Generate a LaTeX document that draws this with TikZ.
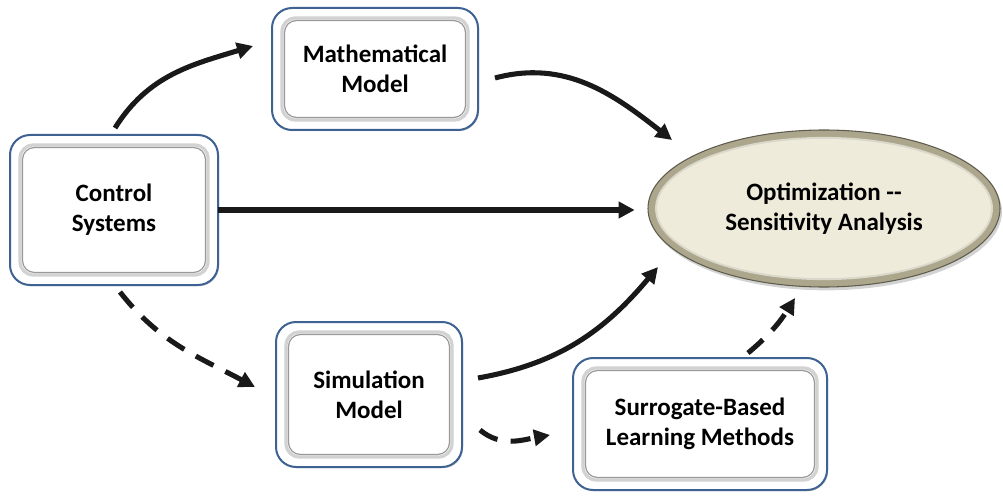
\documentclass[tikz,border=0pt]{standalone}
\usepackage{fontspec}
\setmainfont{Carlito}
\usetikzlibrary{arrows.meta,calc,shapes.geometric,shadows}
\definecolor{frameblue}{RGB}{62,98,145}
\definecolor{beige}{RGB}{238,235,218}
\definecolor{rim}{RGB}{172,167,140}
\begin{document}
\begin{tikzpicture}[x=0.75pt,y=0.75pt,
  lbl/.style={font=\bfseries\fontsize{18.75}{22.5}\selectfont, align=center, text=black},
  panel/.style={lbl, draw=frameblue, line width=1.5pt, fill=white, rounded corners=15pt,
    inner sep=0pt, outer sep=0pt,
    drop shadow={opacity=0.35, shadow xshift=0.9pt, shadow yshift=-0.9pt}},
  innerframe/.style={draw=gray!35, line width=2.4pt, rounded corners=10pt},
  innerline/.style={draw=gray!80, line width=0.9pt, rounded corners=9pt},
  goal/.style={lbl, ellipse, draw=rim!55!black, line width=0.8pt, fill=rim,
    inner sep=0pt, outer sep=0pt,
    drop shadow={opacity=0.35, shadow xshift=1.5pt, shadow yshift=-2.5pt},
    path picture={
      \fill[beige] (path picture bounding box.center) ellipse [x radius=126pt, y radius=53pt];
      \draw[white!55!rim, line width=1.4pt] (path picture bounding box.center) ellipse [x radius=126pt, y radius=53pt];
    }},
  arr/.style={line width=3.8pt, draw=black!90, -{Triangle[length=12pt,width=12pt]}},
  dsh/.style={arr, dash pattern=on 15pt off 10pt}
]
\useasboundingbox (0,0) rectangle (1003,497);

\node[panel, minimum width=156pt, minimum height=112.5pt] (cs) at (114,287) {Control\\Systems};
\node[panel, minimum width=154.5pt, minimum height=91.5pt] (mm) at (375,428) {Mathematical\\Model};
\node[panel, minimum width=139.5pt, minimum height=108.75pt] (sm) at (369,102.5) {Simulation\\Model};
\node[panel, minimum width=190.5pt, minimum height=99pt] (sb) at (700,73) {Surrogate-Based\\Learning Methods};
\node[goal, minimum width=264pt, minimum height=117.75pt] (op) at (824,288.5) {Optimization -{}-\\Sensitivity Analysis};

\foreach \n in {cs,mm,sm,sb} {
  \draw[innerframe] ($(\n.south west)+(10,10)$) rectangle ($(\n.north east)+(-10,-10)$);
  \draw[innerline] ($(\n.south west)+(12.5,12.5)$) rectangle ($(\n.north east)+(-12.5,-12.5)$);
}

% connectors
\draw[arr] ($(cs.north)+(1,7)$) to[out=58,in=197] ($(mm.west)+(-19,23)$);
\draw[arr] ($(mm.east)+(17,-9)$) to[out=15,in=142] ($(op.center)+(-152,68.5)$);
\draw[arr, shorten >=10pt] (cs.east) -- (cs.east -| op.west);
\draw[dsh] ($(cs.south)+(6,-7)$) to[out=-52,in=152] ($(sm.west)+(-21,7.5)$);
\draw[arr] ($(sm.east)+(16,16.5)$) to[out=10,in=230] ($(op.center)+(-166,-58.5)$);
\draw[dsh] ($(sm.east)+(18,-35.5)$) to[out=-40,in=190] ($(sb.west)+(-23,-11)$);
\draw[dsh] ($(sb.north)+(48,5)$) to[out=40,in=238] ($(op.center)+(-29,-89.5)$);
\end{tikzpicture}
\end{document}
